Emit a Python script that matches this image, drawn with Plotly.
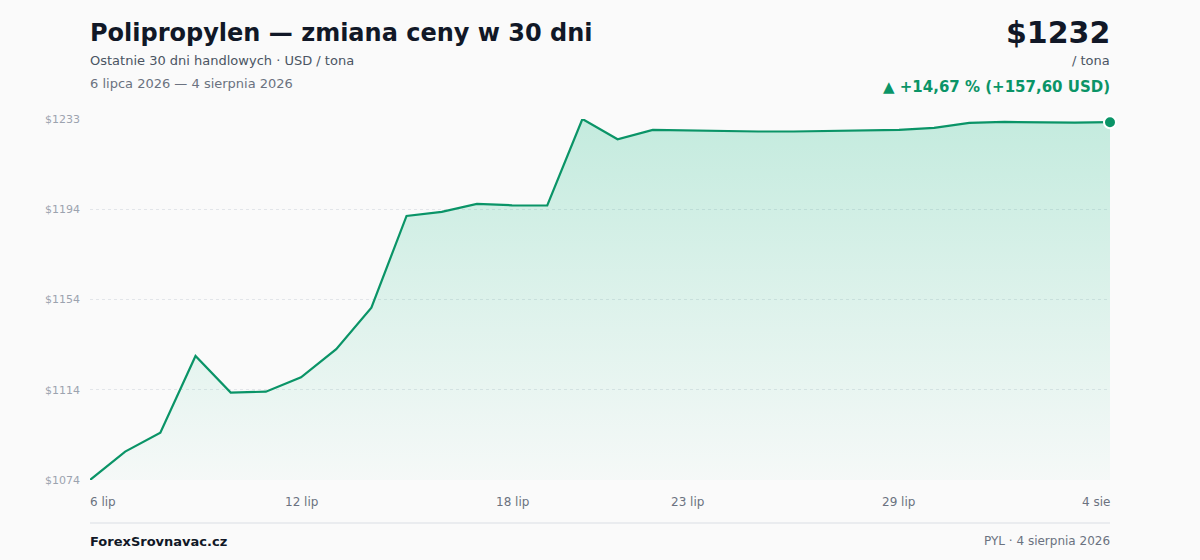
import pandas as pd
import plotly.graph_objects as go

# price in USD / tona, one point per day
dates = pd.date_range("2026-07-06", periods=30, freq="D")
prices = [
    1074.4, 1086.9, 1095.2, 1129.0, 1112.9, 1113.3, 1119.6, 1132.0, 1150.3, 1190.7,
    1192.5, 1196.0, 1195.4, 1195.3, 1233.4, 1224.5, 1228.6, 1228.3, 1228.0, 1227.9,
    1227.9, 1228.1, 1228.5, 1228.6, 1229.5, 1231.7, 1232.1, 1231.9, 1231.8, 1232.0,
]
x_tick_idx = [0, 6, 12, 17, 23, 29]
x_tick_text = ["6 lip", "12 lip", "18 lip", "23 lip", "29 lip", "4 sie"]
y_tick_vals = [1074.4, 1114.15, 1153.9, 1193.65, 1233.4]
y_tick_text = ["$1074", "$1114", "$1154", "$1194", "$1233"]

GREEN = "#0a9467"
FONT = "DejaVu Sans"
T, B = 119, 80  # plot top / bottom margin in px
H = 560
PLOT_H = H - T - B


def py(p):
    # pixel row -> paper y
    return (H - B - p) / PLOT_H


fig = go.Figure()

# invisible baseline so the gradient fill stops at the bottom of the axis
fig.add_trace(go.Scatter(
    x=dates, y=[min(prices)] * len(prices), mode="lines",
    line=dict(width=0), hoverinfo="skip", showlegend=False,
))
fig.add_trace(go.Scatter(
    x=dates, y=prices, mode="lines",
    line=dict(color=GREEN, width=2.2),
    fill="tonexty",
    fillgradient=dict(
        type="vertical",
        colorscale=[[0, "rgba(16,185,129,0.02)"], [1, "rgba(16,185,129,0.23)"]],
    ),
    cliponaxis=False, showlegend=False,
))
# last point marker
fig.add_trace(go.Scatter(
    x=[dates[-1]], y=[prices[-1]], mode="markers",
    marker=dict(color=GREEN, size=12, line=dict(color="white", width=2)),
    cliponaxis=False, showlegend=False,
))

fig.update_layout(
    width=1200, height=H,
    margin=dict(l=90, r=90, t=T, b=B),
    paper_bgcolor="#fafafa", plot_bgcolor="#fafafa",
    font=dict(family=FONT, color="#6b7280"),
)
fig.update_xaxes(
    showgrid=False, zeroline=False, showticklabels=False,
    range=[dates[0], dates[-1]],
)
fig.update_yaxes(
    range=[min(prices), max(prices)],
    tickvals=y_tick_vals, ticktext=y_tick_text,
    tickfont=dict(size=11, color="#9ca3af"),
    ticklabelstandoff=9,
    showgrid=True, gridcolor="#e2e5e9", griddash="dot", gridwidth=1,
    zeroline=False, showline=False,
)

# x tick labels: first left aligned, last right aligned
for n, (i, txt) in enumerate(zip(x_tick_idx, x_tick_text)):
    anchor = "left" if n == 0 else ("right" if n == len(x_tick_idx) - 1 else "center")
    shift = {"left": -2, "right": 2, "center": 0}[anchor]
    fig.add_annotation(
        x=dates[i], y=py(502), yref="paper", text=txt, showarrow=False,
        xanchor=anchor, yanchor="middle", xshift=shift,
        font=dict(size=12, color="#6b7280"),
    )

change = prices[-1] - prices[0]
pct = change / prices[0] * 100

texts = [
    # x, pixel y, text, anchor, size, color
    (0, 33, "<b>Polipropylen — zmiana ceny w 30 dni</b>", "left", 24, "#111827"),
    (0, 61, "Ostatnie 30 dni handlowych · USD / tona", "left", 13, "#4b5563"),
    (0, 83, "6 lipca 2026 — 4 sierpnia 2026", "left", 13, "#6b7280"),
    (1, 32, f"<b>${prices[-1]:.0f}</b>", "right", 30, "#111827"),
    (1, 61, "/ tona", "right", 13, "#4b5563"),
    (1, 87, f"<b>▲ +{pct:.2f} % (+{change:.2f} USD)</b>".replace(".", ","), "right", 15, GREEN),
    (0, 541, "<b>ForexSrovnavac.cz</b>", "left", 13, "#111827"),
    (1, 541, "PYL · 4 sierpnia 2026", "right", 12, "#6b7280"),
]
for x, p, txt, anchor, size, color in texts:
    fig.add_annotation(
        x=x, xref="paper", y=py(p), yref="paper", text=txt, showarrow=False,
        xanchor=anchor, yanchor="middle", xshift=-2 if anchor == "left" else 2,
        font=dict(size=size, color=color),
    )

# footer separator
fig.add_shape(
    type="line", xref="paper", yref="paper", x0=0, x1=1, y0=py(523), y1=py(523),
    line=dict(color="#e5e7eb", width=1.5),
)

# drop the default page margin so the chart sits at the window's corner
fig.write_html(
    "out.html",
    config={"displayModeBar": False},
    post_script="document.body.style.margin='0';document.body.style.background='#fafafa';",
)
